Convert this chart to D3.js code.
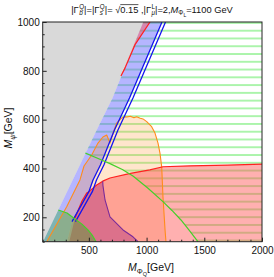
<!DOCTYPE html>
<html><head><meta charset="utf-8">
<script src="https://cdn.jsdelivr.net/npm/d3@7"></script>
<style>body{margin:0;background:#fff}svg{display:block}text{font-family:"Liberation Sans",Arial,sans-serif;fill:#111;white-space:pre}</style>
</head><body>
<script>
const W = 274, H = 277;
const xDomain = [100, 2000], yDomain = [100, 1000];
const xMajor = [500, 1000, 1500, 2000];
const yMajor = [200, 400, 600, 800, 1000];
const xMinor = d3.range(100, 2001, 100).filter(v => !xMajor.includes(v));
const yMinor = d3.range(100, 1001, 50).filter(v => !yMajor.includes(v));

// points: [M_PhiQ, M_psi] in GeV
const grayEdge = [[102.6,100],[360,352.8],[568,557.6],[705,688.7],[971.6,1000]];
const blueLine1 = [[1133.6,1000],[852,688.7],[722,557.6],[600,414],[536,352.8],[500,305],[354,182]];
const blueLine2 = [[1164,1000],[882,688.7],[752,557.6],[630,414],[566,352.8],[530,305],[384,182]];
const purpleCurve = [[620,348],[622,330],[640,271],[683,202],[796,148],[882,120],[926,100]];
const redCurve = [[2000,418],[1700,414],[1378,411],[1142,407],[1028,394],[860,380],[683,361],[620,348],[568,332],[500,305],[481,299.5],[438,264],[408,230],[380,197],[330,100]];
const redSliver = [[971.6,1000],[1030,1000],[900,907],[813,811],[778,779]];
const orangeCurve = [[135,100],[308,243],[423,353],[458,410],[524.5,455],[579,504],[622,529],[654.5,537],[683,504],[709,545],[741,586],[784,607],[813,612],[828,611],[860,614],[890,608],[914,612],[945,606],[969,603],[1001,592],[1044,571],[1073,545],[1099,504],[1116,463],[1131,407],[1142,284],[1160,148],[1168,100]];
const greenArcBig = [[470,463],[570,443],[683,420],[790,396],[882,369],[1010,320],[1142,264],[1220,228],[1298,189],[1370,146],[1445,100]];
const greenArcSmall = [[235,230],[310.5,217.6],[380,193],[440,172],[492.5,148],[530,126],[562,100]];

const x = d3.scaleLinear().domain(xDomain).range([42.7, 262]);
const y = d3.scaleLinear().domain(yDomain).range([241.7, 22]);
const line = d3.line().x(d => x(d[0])).y(d => y(d[1]));
const poly = pts => line(pts) + "Z";

const svg = d3.select("body").append("svg").attr("width", W).attr("height", H);
const defs = svg.append("defs");
defs.append("clipPath").attr("id", "plotclip").append("rect")
  .attr("x", x(100)).attr("y", y(1000)).attr("width", x(2000) - x(100)).attr("height", y(100) - y(1000));
const pat = defs.append("pattern").attr("id", "hatch").attr("patternUnits", "userSpaceOnUse")
  .attr("width", W).attr("height", 7.77).attr("y", 30.7 - 3.885);
pat.append("line").attr("x1", 0).attr("x2", W).attr("y1", 3.885).attr("y2", 3.885)
  .attr("stroke", "#8ff08f").attr("stroke-width", 1.3);

const plot = svg.append("g").attr("clip-path", "url(#plotclip)");

// gray excluded region
plot.append("path").attr("d", poly([[100,100], ...grayEdge, [100,1000]])).attr("fill", "#d9d9d9");

// hatched region outside the big green arc
const gEdgeRev = grayEdge.slice().reverse();
plot.append("path").attr("d", poly([...greenArcBig, [2000,100],[2000,1000], ...gEdgeRev.filter(p => p[1] > 463)]))
  .attr("fill", "url(#hatch)");

// blue band
plot.append("path").attr("d", poly([...grayEdge, ...blueLine1, [310,100]]))
  .attr("fill", "rgba(90,90,255,0.45)");

// orange region
plot.append("path").attr("d", poly(orangeCurve)).attr("fill", "rgba(255,150,50,0.25)");

// red regions
plot.append("path").attr("d", poly([...redCurve, [2000,100]])).attr("fill", "rgba(255,80,80,0.45)");
plot.append("path").attr("d", poly(redSliver)).attr("fill", "rgba(255,80,80,0.45)");

// purple region (below red curve, between blue lines and purple curve)
const redTop = redCurve.filter(p => p[0] >= 500 && p[0] <= 620).reverse();
const bl1Low = blueLine1.filter(p => p[1] <= 305);
plot.append("path").attr("d", poly([...bl1Low, [310,100], [926,100], ...purpleCurve.slice().reverse(), ...redTop.slice(1)]))
  .attr("fill", "rgba(140,0,120,0.3)");

// small green region
plot.append("path").attr("d", poly([...greenArcSmall, [102.6,100], [235,230]]))
  .attr("fill", "rgba(0,180,0,0.3)");

// boundary lines
const stroke = (pts, c, w) => plot.append("path").attr("d", line(pts)).attr("fill", "none")
  .attr("stroke", c).attr("stroke-width", w).attr("stroke-linejoin", "round");
stroke(orangeCurve, "#ff8c1a", 1.1);
stroke(redCurve.slice(0, -1), "#ff2020", 1.2);
stroke(redSliver.slice(1), "#ff2020", 1.2);
stroke(purpleCurve, "#7a2a9a", 1.1);
stroke(blueLine1, "#1515ee", 1.3);
stroke(blueLine2, "#1515ee", 1.3);
stroke(greenArcBig, "#44d02a", 1.2);
stroke(greenArcSmall, "#44d02a", 1.2);

// frame
svg.append("rect").attr("x", x(100)).attr("y", y(1000)).attr("width", x(2000) - x(100)).attr("height", y(100) - y(1000))
  .attr("fill", "none").attr("stroke", "#222").attr("stroke-width", 1);

// axes
const fmt = d => String(d);
const ax = svg.append("g").attr("transform", `translate(0,${y(100)})`)
  .call(d3.axisBottom(x).tickValues(xMajor).tickSize(-4).tickPadding(5).tickFormat(fmt));
const axm = svg.append("g").attr("transform", `translate(0,${y(100)})`)
  .call(d3.axisBottom(x).tickValues(xMinor).tickSize(-2).tickFormat(""));
const ay = svg.append("g").attr("transform", `translate(${x(100)},0)`)
  .call(d3.axisLeft(y).tickValues(yMajor).tickSize(-4).tickPadding(3).tickFormat(fmt));
const aym = svg.append("g").attr("transform", `translate(${x(100)},0)`)
  .call(d3.axisLeft(y).tickValues(yMinor).tickSize(-2).tickFormat(""));
[ax, axm, ay, aym].forEach(a => {
  a.select(".domain").remove();
  a.selectAll("line").attr("stroke", "#222");
  a.selectAll("text").attr("font-size", 10).attr("font-family", '"Liberation Sans",Arial,sans-serif').attr("fill", "#111");
});

// rich text helper
function rich(parent, items, size) {
  const outer = parent.append("g");
  const g = outer.append("g");
  let cx = 0;
  items.forEach(it => {
    const parts = Array.isArray(it) ? it : [it];
    let maxw = 0;
    parts.forEach(p => {
      const t = g.append("text").attr("x", cx + (p.dx || 0)).attr("y", p.dy || 0)
        .attr("font-size", p.s || size).attr("font-style", p.i ? "italic" : null).text(p.t);
      const w = t.node().getComputedTextLength() + (p.dx || 0);
      if (p.over) {
        g.append("line").attr("x1", cx).attr("x2", cx + w).attr("y1", -(p.s || size) * 0.85).attr("y2", -(p.s || size) * 0.85)
          .attr("stroke", "#111").attr("stroke-width", 0.7);
      }
      maxw = Math.max(maxw, w);
    });
    cx += maxw;
  });
  g.attr("transform", `translate(${-cx / 2},0)`);
  return outer;
}

const S = 6.3;
rich(svg, [
  {t: "|Γ"}, [{t: "b", s: S, dy: 2.3, i: true, dx: 0.4}, {t: "Q", s: S, dy: -4, dx: 0.4}],
  {t: "|=|Γ"}, [{t: "s", s: S, dy: 2.3, i: true, dx: 0.4}, {t: "Q", s: S, dy: -4, dx: 0.4}],
  {t: "|=\u00A0√"}, {t: "0.15", over: true}, {t: "\u00A0,|Γ"},
  [{t: "μ", s: S, dy: 2.3, i: true, dx: 0.4}, {t: "L", s: S, dy: -4, dx: 0.4}],
  {t: "|=2,"}, {t: "M", i: true}, {t: "Φ", s: S, dy: 2.3}, {t: "L", s: 5, dy: 4.2}, {t: "=1100\u00A0GeV"}
], 9.3).attr("transform", "translate(152,12.5)");

rich(svg, [{t: "M", i: true}, {t: "Φ", s: 7.5, dy: 2.5}, {t: "Q", s: 5.5, dy: 4.5}, {t: "[GeV]"}], 10.5)
  .attr("transform", "translate(151,271)");

rich(svg, [{t: "M", i: true}, {t: "ψ", s: 7.5, dy: 2.5, i: true}, {t: "[GeV]"}], 10.5)
  .attr("transform", "translate(12,128) rotate(-90)");
</script>
</body></html>
